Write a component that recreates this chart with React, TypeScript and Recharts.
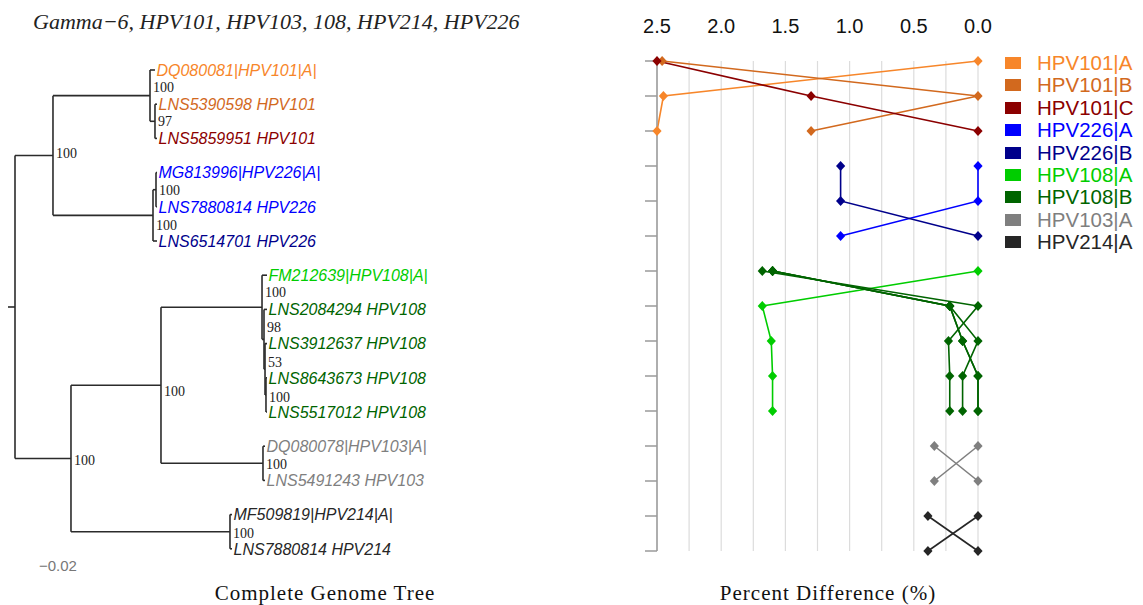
import React from 'react';
import {
  ComposedChart,
  LineChart,
  Line,
  XAxis,
  YAxis,
  CartesianGrid,
  ReferenceLine,
  Scatter,
} from 'recharts';

// ---------------- text ----------------
const titleText = 'Gamma\u22126, HPV101, HPV103, 108, HPV214, HPV226';
const treeTitle = 'Complete Genome Tree';
const diffTitle = 'Percent Difference (%)';
const scaleText = '\u22120.02';

// ---------------- groups / legend ----------------
const legendGroups = ['HPV101|A', 'HPV101|B', 'HPV101|C', 'HPV226|A', 'HPV226|B', 'HPV108|A', 'HPV108|B', 'HPV103|A', 'HPV214|A'];
const groupColors = ['#F7862A', '#D2691E', '#8B0000', '#0000FF', '#00008B', '#00CD00', '#006400', '#7F7F7F', '#262626'];
const colorOf = (g: string) => groupColors[legendGroups.indexOf(g)];

// ---------------- tree: leaves (top to bottom) ----------------
const leafNames = [
  'DQ080081|HPV101|A|', 'LNS5390598 HPV101', 'LNS5859951 HPV101',
  'MG813996|HPV226|A|', 'LNS7880814 HPV226', 'LNS6514701 HPV226',
  'FM212639|HPV108|A|', 'LNS2084294 HPV108', 'LNS3912637 HPV108', 'LNS8643673 HPV108', 'LNS5517012 HPV108',
  'DQ080078|HPV103|A|', 'LNS5491243 HPV103',
  'MF509819|HPV214|A|', 'LNS7880814 HPV214',
];
const leafGroups = [
  'HPV101|A', 'HPV101|B', 'HPV101|C',
  'HPV226|A', 'HPV226|A', 'HPV226|B',
  'HPV108|A', 'HPV108|B', 'HPV108|B', 'HPV108|B', 'HPV108|B',
  'HPV103|A', 'HPV103|A',
  'HPV214|A', 'HPV214|A',
];
const leafParents = ['n101', 'n97', 'n97', 'n226a', 'n226a', 'n226', 'n108', 'n98', 'n53', 'n100b', 'n100b', 'n103', 'n103', 'n214', 'n214'];
const leafDist = [0.2333, 0.2367, 0.2367, 0.2367, 0.2367, 0.2367, 0.42, 0.42, 0.42, 0.42, 0.42, 0.4167, 0.4167, 0.3617, 0.3617];

// ---------------- tree: internal nodes ----------------
const nodeIds = ['root', 'nA', 'n101', 'n97', 'n226', 'n226a', 'nB', 'n161', 'n108', 'n98', 'n53', 'n100b', 'n103', 'n214'];
const nodeParents = [null, 'root', 'nA', 'n101', 'nA', 'n226', 'root', 'nB', 'n161', 'n108', 'n98', 'n53', 'n161', 'nB'];
const nodeDist = [0, 0.0633, 0.225, 0.2333, 0.23, 0.235, 0.0933, 0.2433, 0.4117, 0.415, 0.4167, 0.4183, 0.4133, 0.3583];
const nodeSupport = [null, 100, 100, 97, 100, 100, 100, 100, 100, 98, 53, 100, 100, 100];
// vertical nudge of each support label (rows) relative to its node
const supportNudge = [0, -0.06, -0.26, 0, 0.29, 0, 0.06, 0.18, -0.44, -0.35, -0.2, 0.06, 0.03, 0.03];
const rootEdge = -0.0117;

// ---------------- percent difference lines ----------------
const rowIndex = [1, 2, 3, 4, 5, 6, 7, 8, 9, 10, 11, 12, 13, 14, 15];
const xTickValues = [0, 0.25, 0.5, 0.75, 1, 1.25, 1.5, 1.75, 2, 2.25, 2.5];

const lineKeys = ['r101A', 'r101B', 'r101C', 'r226A', 'r226B', 'r108A', 'r108B1', 'r108B2', 'r108B3', 'r108B4', 'r103a', 'r103b', 'r214a', 'r214b'];
const lineGroups = ['HPV101|A', 'HPV101|B', 'HPV101|C', 'HPV226|A', 'HPV226|B', 'HPV108|A', 'HPV108|B', 'HPV108|B', 'HPV108|B', 'HPV108|B', 'HPV103|A', 'HPV103|A', 'HPV214|A', 'HPV214|A'];
const lineStartRows = [1, 1, 1, 4, 4, 7, 7, 7, 7, 7, 12, 12, 14, 14];
const lineValues = [
  [0, 2.45, 2.5],
  [2.46, 0, 1.3],
  [2.5, 1.3, 0],
  [0, 0, 1.07],
  [1.07, 1.07, 0],
  [0, 1.68, 1.61, 1.6, 1.6],
  [1.68, 0, 0.23, 0.22, 0.22],
  [1.6, 0.22, 0, 0.12, 0.12],
  [1.6, 0.22, 0.12, 0, 0],
  [1.6, 0.22, 0.12, 0, 0],
  [0, 0.34],
  [0.34, 0],
  [0, 0.39],
  [0.39, 0],
];

// ---------------- derived tables ----------------
const diffRows = rowIndex.map((r) => {
  const o: any = { row: r };
  lineKeys.forEach((k, i) => {
    const j = r - lineStartRows[i];
    if (j >= 0 && j < lineValues[i].length) o[k] = lineValues[i][j];
  });
  return o;
});

const nodeY: Record<string, number> = {};
const computeY = (id: string): number => {
  if (nodeY[id] !== undefined) return nodeY[id];
  const ys: number[] = [];
  leafParents.forEach((p, i) => { if (p === id) ys.push(rowIndex[i]); });
  nodeParents.forEach((p, i) => { if (p === id) ys.push(computeY(nodeIds[i])); });
  const y = (Math.min(...ys) + Math.max(...ys)) / 2;
  nodeY[id] = y;
  return y;
};
nodeIds.forEach((id) => computeY(id));
const distOf = (id: string) => nodeDist[nodeIds.indexOf(id)];

type Seg = { x1: number; y1: number; x2: number; y2: number };
const segments: Seg[] = [];
nodeIds.forEach((id, i) => {
  const ys: number[] = [];
  leafParents.forEach((p, j) => { if (p === id) ys.push(rowIndex[j]); });
  nodeParents.forEach((p, j) => { if (p === id) ys.push(nodeY[nodeIds[j]]); });
  segments.push({ x1: nodeDist[i], y1: Math.min(...ys), x2: nodeDist[i], y2: Math.max(...ys) });
  const p = nodeParents[i];
  if (p) segments.push({ x1: distOf(p), y1: nodeY[id], x2: nodeDist[i], y2: nodeY[id] });
  else segments.push({ x1: rootEdge, y1: nodeY[id], x2: nodeDist[i], y2: nodeY[id] });
});
leafParents.forEach((p, i) => {
  segments.push({ x1: distOf(p), y1: rowIndex[i], x2: leafDist[i], y2: rowIndex[i] });
});

const leafPoints = leafNames.map((n, i) => ({ x: leafDist[i], y: rowIndex[i], name: n, group: leafGroups[i] }));
const supportPoints = nodeIds
  .map((id, i) => ({ x: nodeDist[i] + 0.005, y: nodeY[id] + supportNudge[i], label: nodeSupport[i] }))
  .filter((d) => d.label !== null);

// ---------------- styles ----------------
const SANS = "Arial, 'Liberation Sans', sans-serif";
const SERIF = "'Times New Roman', 'Liberation Serif', serif";
const BRANCH = '#2b2b2b';

const LeafLabel = (props: any) => {
  const { cx, cy, payload } = props;
  return (
    <text x={cx + 1.5} y={cy} dy="0.36em" fontFamily={SANS} fontStyle="italic" fontSize={16} fill={colorOf(payload.group)}>
      {payload.name}
    </text>
  );
};

const SupportLabel = (props: any) => {
  const { cx, cy, payload } = props;
  return (
    <text x={cx} y={cy} dy="0.35em" fontFamily={SERIF} fontSize={14} fill="#222">
      {payload.label}
    </text>
  );
};

const makeDiamond = (color: string) => (props: any) => {
  const { cx, cy, value, index } = props;
  if (cx == null || cy == null || value == null || Number.isNaN(cx)) return <g key={`e-${index}`} />;
  return (
    <path
      key={`d-${index}`}
      d={`M${cx},${cy - 5} L${cx + 4.6},${cy} L${cx},${cy + 5} L${cx - 4.6},${cy} Z`}
      fill={color}
      stroke="none"
    />
  );
};

// tree plot mapping: x_px = 15 + 600*d ; y_px = 70 + (row-1)*34.2
const TREE_W = 600;
const TREE_H = 605;
const treeXDomain = [-15 / 600, (TREE_W - 15) / 600];
const treeYDomain = [1 - 70 / 34.2, 1 + (TREE_H - 70) / 34.2];

export default function App() {
  return (
    <div style={{ position: 'absolute', left: 0, top: 0, width: 1143, height: 605, background: '#fff', overflow: 'hidden' }}>
      {/* title */}
      <div style={{ position: 'absolute', left: 33, top: 9, fontFamily: SERIF, fontStyle: 'italic', fontSize: 22, lineHeight: '26px', color: '#222', whiteSpace: 'nowrap' }}>
        {titleText}
      </div>

      {/* tree */}
      <div style={{ position: 'absolute', left: 0, top: 0 }}>
        <ComposedChart width={TREE_W} height={TREE_H} margin={{ top: 0, right: 0, bottom: 0, left: 0 }}>
          <XAxis type="number" dataKey="x" domain={treeXDomain} allowDataOverflow hide />
          <YAxis type="number" dataKey="y" domain={treeYDomain} allowDataOverflow reversed hide />
          {segments.map((s, i) => (
            <ReferenceLine
              key={`seg-${i}`}
              segment={[{ x: s.x1, y: s.y1 }, { x: s.x2, y: s.y2 }]}
              stroke={BRANCH}
              strokeWidth={1.6}
              ifOverflow="visible"
            />
          ))}
          <Scatter data={leafPoints} shape={LeafLabel} isAnimationActive={false} />
          <Scatter data={supportPoints} shape={SupportLabel} isAnimationActive={false} />
        </ComposedChart>
      </div>

      {/* scale label */}
      <div style={{ position: 'absolute', left: 39, top: 556, fontFamily: SANS, fontSize: 15, lineHeight: '20px', color: '#777' }}>
        {scaleText}
      </div>

      {/* percent difference chart */}
      <div style={{ position: 'absolute', left: 600, top: 0 }}>
        <LineChart
          width={400}
          height={605}
          layout="vertical"
          data={diffRows}
          margin={{ top: 31, right: 22, bottom: 54, left: 45 }}
        >
          <CartesianGrid horizontal={false} vertical stroke="#dcdcdc" strokeWidth={1.2} />
          <XAxis
            type="number"
            orientation="top"
            domain={[0, 2.5]}
            reversed
            ticks={xTickValues}
            interval={0}
            height={30}
            axisLine={false}
            tickLine={false}
            tickSize={0}
            tickMargin={28}
            tickFormatter={(v: number) => (Math.abs(v * 2 - Math.round(v * 2)) < 1e-9 ? v.toFixed(1) : '')}
            tick={{ fontFamily: SANS, fontSize: 20, fill: '#111' }}
          />
          <YAxis
            type="number"
            dataKey="row"
            domain={[1, 15]}
            ticks={rowIndex}
            interval={0}
            width={12}
            tickSize={12}
            tickFormatter={() => ''}
            axisLine={{ stroke: '#9a9a9a', strokeWidth: 1.5 }}
            tickLine={{ stroke: '#9a9a9a', strokeWidth: 1.5 }}
          />
          {lineKeys.map((k, i) => (
            <Line
              key={k}
              dataKey={k}
              type="linear"
              stroke={colorOf(lineGroups[i])}
              strokeWidth={1.6}
              dot={makeDiamond(colorOf(lineGroups[i]))}
              activeDot={false}
              connectNulls={false}
              isAnimationActive={false}
            />
          ))}
        </LineChart>
      </div>

      {/* legend */}
      <div style={{ position: 'absolute', left: 1005, top: 52 }}>
        {legendGroups.map((g, i) => (
          <div key={g} style={{ position: 'absolute', left: 0, top: i * 22.4, height: 22, width: 140, whiteSpace: 'nowrap' }}>
            <div style={{ position: 'absolute', left: 0, top: 5, width: 16, height: 12, background: groupColors[i] }} />
            <div style={{ position: 'absolute', left: 32, top: 0, fontFamily: SANS, fontSize: 20.5, lineHeight: '22px', color: groupColors[i] }}>
              {g}
            </div>
          </div>
        ))}
      </div>

      {/* bottom titles */}
      <div style={{ position: 'absolute', left: 125, width: 400, top: 580, textAlign: 'center', fontFamily: SERIF, fontSize: 21, lineHeight: '26px', letterSpacing: 1, color: '#111' }}>
        {treeTitle}
      </div>
      <div style={{ position: 'absolute', left: 628, width: 400, top: 580, textAlign: 'center', fontFamily: SERIF, fontSize: 21, lineHeight: '26px', letterSpacing: 1, color: '#111' }}>
        {diffTitle}
      </div>
    </div>
  );
}
